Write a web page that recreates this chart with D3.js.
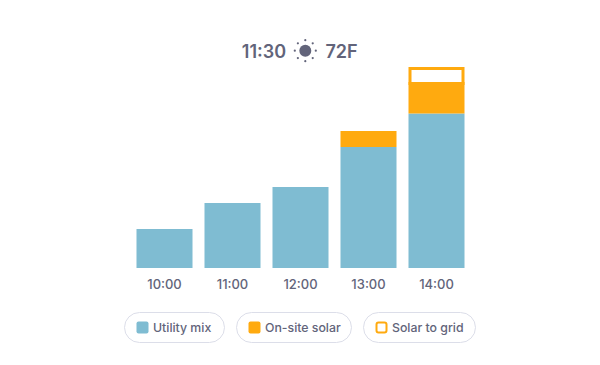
<!DOCTYPE html>
<html>
<head>
<meta charset="utf-8">
<script src="https://cdn.jsdelivr.net/npm/d3@7"></script>
<style>
  html, body { margin: 0; padding: 0; background: #fff; }
  text { font-family: Inter, "Noto Sans", sans-serif; fill: #62647a; }
</style>
</head>
<body>
<div id="chart"></div>
<script>
const hours = ["10:00", "11:00", "12:00", "13:00", "14:00"];
const utilityMix = [39, 65, 81, 121, 154.5];
const onSiteSolar = [0, 0, 0, 16, 31.5];
const solarToGrid = [0, 0, 0, 0, 15];
const legendLabels = ["Utility mix", "On-site solar", "Solar to grid"];
const clockLabel = "11:30";
const tempLabel = "72F";

const width = 600, height = 365;
const blue = "#7fbcd2", orange = "#ffaa0f";

const svg = d3.select("#chart")
  .append("svg")
  .attr("width", width)
  .attr("height", height)
  .style("display", "block");

const x = d3.scaleBand()
  .domain(hours)
  .range([136.5, 464.5])
  .paddingInner(12 / 68);

const y = d3.scaleLinear()
  .domain([0, 201])
  .range([268, 67]);

const rows = hours.map((h, i) => ({
  hour: h,
  utility: utilityMix[i],
  solar: onSiteSolar[i],
  grid: solarToGrid[i]
}));

const stacked = d3.stack().keys(["utility", "solar", "grid"])(rows);

// utility + on-site solar are plain filled bars
svg.append("g")
  .selectAll("g")
  .data(stacked.slice(0, 2))
  .join("g")
  .attr("fill", d => d.key == "utility" ? blue : orange)
  .selectAll("rect")
  .data(d => d.filter(p => p[1] > p[0]))
  .join("rect")
  .attr("x", d => x(d.data.hour))
  .attr("y", d => y(d[1]))
  .attr("width", x.bandwidth())
  .attr("height", d => y(d[0]) - y(d[1]));

// solar to grid is outlined, stroke sits inside the bar
// bottom stroke overlaps the solar segment so the white area keeps its full height
const sw = 3;
svg.append("g")
  .selectAll("rect")
  .data(stacked[2].filter(p => p[1] > p[0]))
  .join("rect")
  .attr("x", d => x(d.data.hour) + sw / 2)
  .attr("y", d => y(d[1]) + sw / 2)
  .attr("width", x.bandwidth() - sw)
  .attr("height", d => y(d[0]) - y(d[1]))
  .attr("fill", "#fff")
  .attr("stroke", orange)
  .attr("stroke-width", sw);

const axis = svg.append("g")
  .attr("transform", `translate(0,${y(0)})`)
  .call(d3.axisBottom(x).tickSize(0).tickPadding(9));
axis.select(".domain").remove();
axis.selectAll("text")
  .attr("dy", "0.95em")
  .attr("font-size", 13)
  .attr("font-family", "Inter")
  .style("font-weight", 500);

// header
const header = svg.append("g").attr("font-size", 18).attr("font-weight", 600);
header.append("text").attr("x", 264).attr("y", 58).attr("text-anchor", "middle").text(clockLabel);
header.append("text").attr("x", 341.5).attr("y", 58).attr("text-anchor", "middle").text(tempLabel);

const sun = svg.append("g").attr("transform", "translate(305.3,50.7)");
sun.append("circle").attr("r", 6).attr("fill", "#62647a");
sun.selectAll(".ray")
  .data(d3.range(8))
  .join("circle")
  .attr("class", "ray")
  .attr("r", 1.1)
  .attr("fill", "#62647a")
  .attr("cx", d => 10.5 * Math.cos(d * Math.PI / 4))
  .attr("cy", d => 10.5 * Math.sin(d * Math.PI / 4));

// legend pills
const pillX = [124.5, 236.5, 363.5];
const pillW = [100, 115, 112];
const legend = svg.append("g")
  .selectAll("g")
  .data(legendLabels)
  .join("g")
  .attr("transform", (d, i) => `translate(${pillX[i]},312.5)`);

legend.append("rect")
  .attr("width", (d, i) => pillW[i])
  .attr("height", 30)
  .attr("rx", 15)
  .attr("fill", "#fff")
  .attr("stroke", "#dcdee9")
  .attr("stroke-width", 1);

legend.append("rect")
  .attr("x", (d, i) => i == 2 ? 13 : 12)
  .attr("y", (d, i) => i == 2 ? 10 : 9)
  .attr("width", (d, i) => i == 2 ? 10 : 12)
  .attr("height", (d, i) => i == 2 ? 10 : 12)
  .attr("rx", 2)
  .attr("fill", (d, i) => i == 0 ? blue : i == 1 ? orange : "#fff")
  .attr("stroke", (d, i) => i == 2 ? orange : "none")
  .attr("stroke-width", 2);

legend.append("text")
  .attr("x", 28.5)
  .attr("y", 19.5)
  .attr("font-size", 12.3)
  .attr("font-weight", 500)
  .text(d => d);
</script>
</body>
</html>
